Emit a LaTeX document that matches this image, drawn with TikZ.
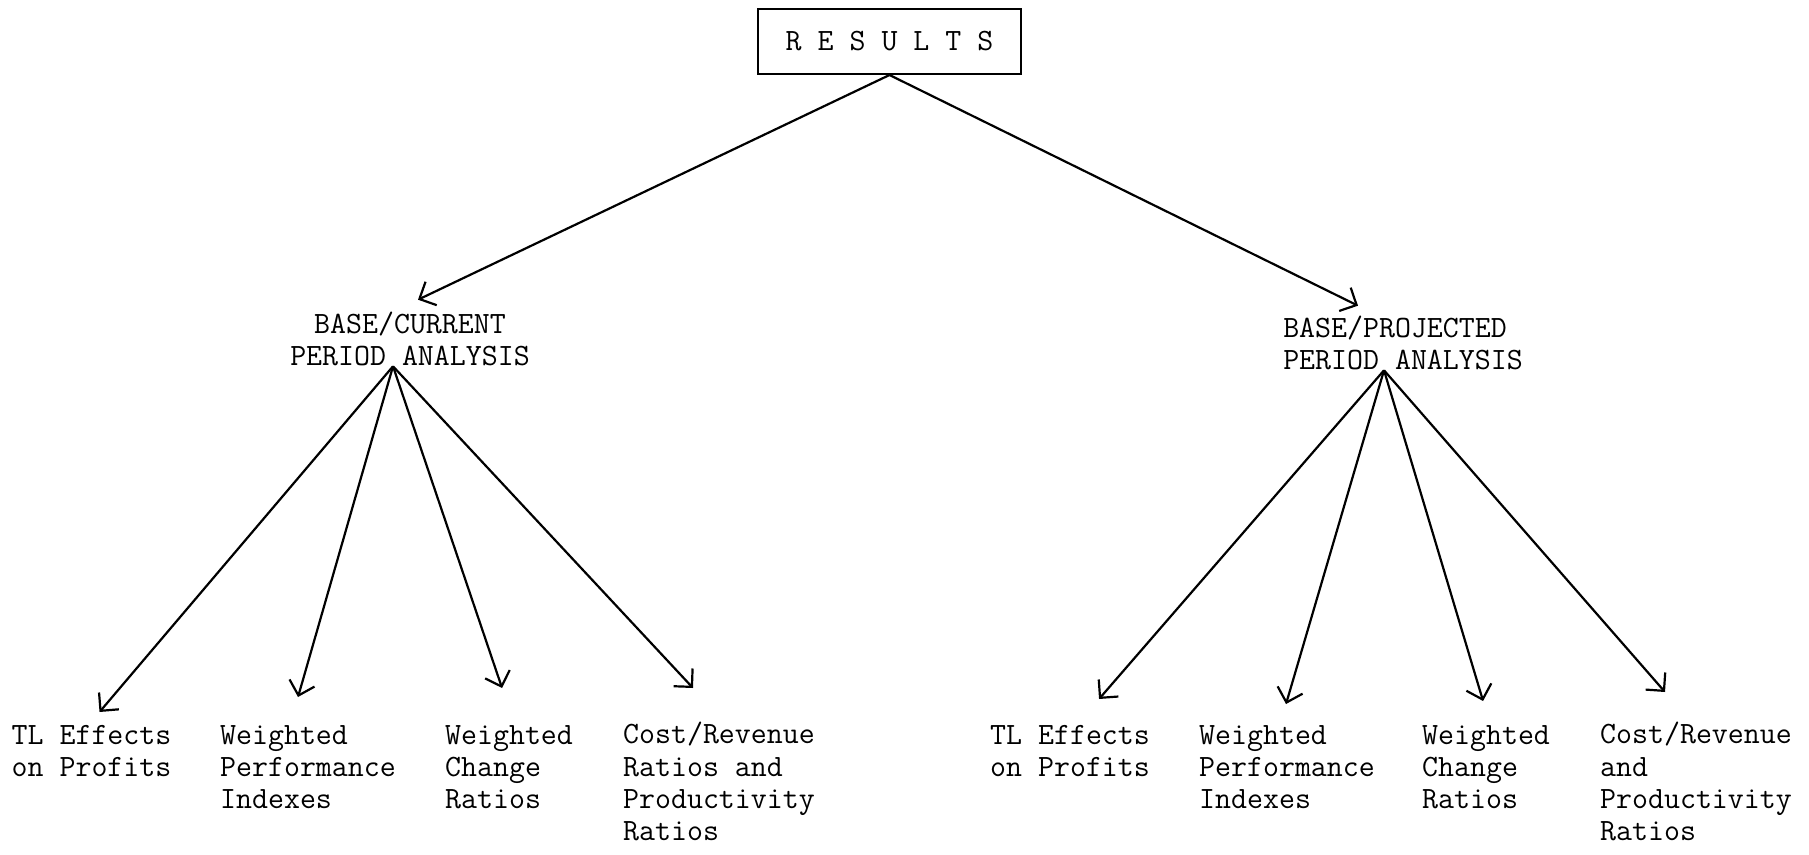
\documentclass[tikz,border=0pt]{standalone}
\usetikzlibrary{arrows.meta}

\begin{document}
\begin{tikzpicture}[x = 1pt, y = -1pt,
	> = {Straight Barb[length = 13pt, width = 26pt]},
	every node/.style = {font = \ttfamily\fontsize{31}{32.3}\selectfont, inner sep = 0pt},
	leaf/.style = {anchor = north west, align = left},
	link/.style = {line width = 2.2pt, ->}]
	
	\useasboundingbox (0, 0) rectangle (1809, 854);
	
	% The top box
	
	\node [draw, line width = 2pt, minimum width = 263pt, minimum height = 65pt] (res) at (889.5, 41.5) {R E S U L T S};
	
	% The two analyses
	
	\node [align = center] (cur) at (410, 339) {BASE/CURRENT\\PERIOD ANALYSIS};
	\node [align = left] (proj) at (1403, 343) {BASE/PROJECTED\\PERIOD ANALYSIS};
	
	\coordinate (curfan) at ([xshift = -17pt] cur.south);
	\coordinate (projfan) at ([xshift = -19pt] proj.south);
	
	% The results under each analysis
	
	\node [leaf] (tl1) at (11.5, 725) {TL Effects\\on Profits};
	\node [leaf] (wp1) at (220, 725) {Weighted\\Performance\\Indexes};
	\node [leaf] (wc1) at (445, 725) {Weighted\\Change\\Ratios};
	\node [leaf] (cr1) at (623, 722) {Cost/Revenue\\Ratios and\\Productivity\\Ratios};
	
	\node [leaf] (tl2) at (990, 725) {TL Effects\\on Profits};
	\node [leaf] (wp2) at (1199, 725) {Weighted\\Performance\\Indexes};
	\node [leaf] (wc2) at (1422, 725) {Weighted\\Change\\Ratios};
	\node [leaf] (cr2) at (1600, 722) {Cost/Revenue\\and\\Productivity\\Ratios};
	
	% The arrows
	
	\draw [link] (res.south) -- ([xshift = 8pt, yshift = 12pt] cur.north);
	\draw [link] (res.south) -- ([xshift = -45pt, yshift = 10pt] proj.north);
	
	\foreach \leaf/\dx/\dy in {tl1/8/13, wp1/-10/28, wc1/-7/37, cr1/-26/34}
		\draw [link] (curfan) -- ([xshift = \dx pt, yshift = \dy pt] \leaf.north);
	
	\foreach \leaf/\dx/\dy in {tl2/29/26, wp2/-1/21, wc2/-3/24, cr2/-31/30}
		\draw [link] (projfan) -- ([xshift = \dx pt, yshift = \dy pt] \leaf.north);
	
\end{tikzpicture}
\end{document}
